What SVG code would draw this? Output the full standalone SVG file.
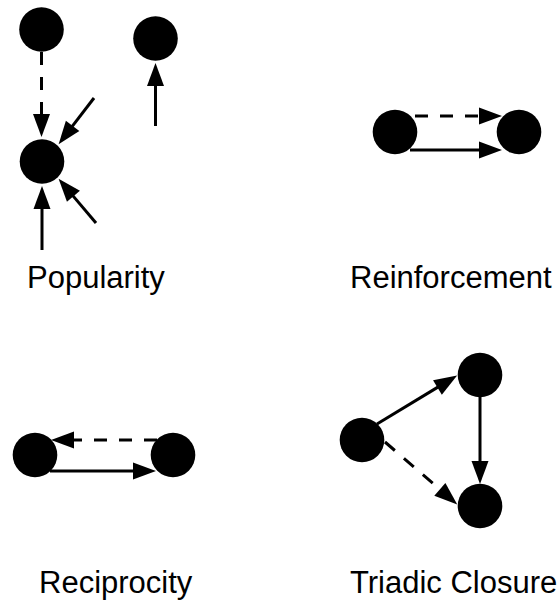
<svg xmlns="http://www.w3.org/2000/svg" width="560" height="601" viewBox="0 0 560 601">
  <style>
    .node { fill: #000; }
    .edge { stroke: #000; stroke-width: 3; fill: none; marker-end: url(#head); }
    .dash { stroke-dasharray: 13 12; }
    .label { font-family: "Liberation Sans", Arial, sans-serif; font-size: 31px; fill: #000; }
  </style>
  <defs>
    <marker id="head" markerUnits="userSpaceOnUse" markerWidth="24" markerHeight="18" viewBox="0 -9 24 18" refX="1" refY="0" orient="auto" overflow="visible">
      <path d="M0,-8.5 L23,0 L0,8.5 z" fill="#000"/>
    </marker>
  </defs>

  <!-- connectors -->
  <g id="connectors">
    <!-- popularity -->
    <line class="edge dash" x1="41.5" y1="52" x2="41.5" y2="115"/>
    <line class="edge" x1="94" y1="98" x2="72" y2="126.7"/>
    <line class="edge" x1="96" y1="223" x2="72.8" y2="195.6"/>
    <line class="edge" x1="42" y1="250" x2="42" y2="208"/>
    <line class="edge" x1="155.5" y1="126" x2="155.5" y2="85"/>
    <!-- reinforcement -->
    <line class="edge dash" x1="415" y1="116" x2="480" y2="116"/>
    <line class="edge" x1="410" y1="150" x2="480" y2="150"/>
    <!-- reciprocity -->
    <line class="edge dash" x1="157" y1="440" x2="73" y2="440"/>
    <line class="edge" x1="50" y1="471" x2="134" y2="471"/>
    <!-- triadic closure -->
    <line class="edge" x1="377" y1="424" x2="438.3" y2="386.9"/>
    <line class="edge" x1="480" y1="397" x2="480" y2="462"/>
    <line class="edge dash" x1="385" y1="442" x2="440.6" y2="490"/>
  </g>

  <!-- popularity nodes -->
  <g id="pop-a"><circle class="node" cx="41.5" cy="29.5" r="22.3"/></g>
  <g id="pop-b"><circle class="node" cx="155.5" cy="38.5" r="22.3"/></g>
  <g id="pop-c"><circle class="node" cx="42" cy="161.5" r="22.3"/></g>

  <!-- reinforcement nodes -->
  <g id="rein-a"><circle class="node" cx="395" cy="132" r="22.3"/></g>
  <g id="rein-b"><circle class="node" cx="519" cy="132" r="22.3"/></g>

  <!-- reciprocity nodes -->
  <g id="reci-a"><circle class="node" cx="35" cy="455" r="22.3"/></g>
  <g id="reci-b"><circle class="node" cx="173" cy="455" r="22.3"/></g>

  <!-- triadic closure nodes -->
  <g id="tri-a"><circle class="node" cx="362" cy="440" r="22.3"/></g>
  <g id="tri-b"><circle class="node" cx="480" cy="375" r="22.3"/></g>
  <g id="tri-c"><circle class="node" cx="480" cy="506" r="22.3"/></g>

  <!-- labels -->
  <text class="label" x="27" y="288">Popularity</text>
  <text class="label" x="350" y="288">Reinforcement</text>
  <text class="label" x="39" y="593">Reciprocity</text>
  <text class="label" x="350" y="593">Triadic Closure</text>
</svg>
